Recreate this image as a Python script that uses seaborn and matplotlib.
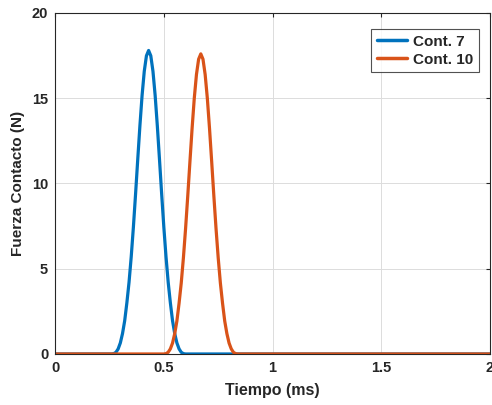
import matplotlib
matplotlib.use("Agg")
import matplotlib.pyplot as plt
import seaborn as sns
import pandas as pd

series_names = ["Cont. 7", "Cont. 10"]

time_c7 = [0.0, 0.26, 0.27, 0.28, 0.29, 0.30, 0.31, 0.32, 0.33, 0.34, 0.35, 0.36, 0.37,
           0.38, 0.39, 0.40, 0.41, 0.42, 0.43, 0.44, 0.45, 0.46, 0.47, 0.48, 0.49, 0.50,
           0.51, 0.52, 0.53, 0.54, 0.55, 0.56, 0.57, 0.58, 0.59, 0.60, 2.0]
force_c7 = [0.0, 0.0, 0.02, 0.1, 0.3, 0.65, 1.2, 1.95, 3.0, 4.21, 5.70, 7.44, 9.38,
            11.41, 13.39, 15.17, 16.58, 17.49, 17.8, 17.49, 16.58, 15.17, 13.39, 11.41, 9.38, 7.44,
            5.70, 4.21, 3.0, 1.95, 1.2, 0.65, 0.3, 0.1, 0.02, 0.0, 0.0]

time_c10 = [0.0, 0.50, 0.51, 0.52, 0.53, 0.54, 0.55, 0.56, 0.57, 0.58, 0.59, 0.60, 0.61,
            0.62, 0.63, 0.64, 0.65, 0.66, 0.67, 0.68, 0.69, 0.70, 0.71, 0.72, 0.73, 0.74,
            0.75, 0.76, 0.77, 0.78, 0.79, 0.80, 0.81, 0.82, 0.83, 0.84, 2.0]
force_c10 = [0.0, 0.0, 0.02, 0.1, 0.3, 0.64, 1.19, 1.93, 2.97, 4.16, 5.64, 7.36, 9.27,
             11.28, 13.24, 15.0, 16.39, 17.29, 17.6, 17.29, 16.39, 15.0, 13.24, 11.28, 9.27, 7.36,
             5.64, 4.16, 2.97, 1.93, 1.19, 0.64, 0.3, 0.1, 0.02, 0.0, 0.0]

x_ticks = [0, 0.5, 1, 1.5, 2]
x_tick_labels = ["0", "0.5", "1", "1.5", "2"]
y_ticks = [0, 5, 10, 15, 20]
y_tick_labels = ["0", "5", "10", "15", "20"]

df = pd.concat([
    pd.DataFrame({"t": time_c7, "F": force_c7, "s": series_names[0]}),
    pd.DataFrame({"t": time_c10, "F": force_c10, "s": series_names[1]}),
])

sns.set_style("white")
plt.rcParams["font.family"] = ["Liberation Sans", "DejaVu Sans"]
plt.rcParams["font.weight"] = "bold"

fig = plt.figure(figsize=(4.92, 4.05), dpi=100)
ax = fig.add_axes([0.112, 0.126, 0.884, 0.842])

palette = {"Cont. 7": "#0072BD", "Cont. 10": "#D95319"}
sns.lineplot(data=df, x="t", y="F", hue="s", palette=palette, linewidth=2.3,
             ax=ax, sort=False, estimator=None)

ax.set_xlim(0, 2)
ax.set_ylim(0, 20)
ax.set_xticks(x_ticks)
ax.set_xticklabels(x_tick_labels, fontsize=10.5, fontweight="bold")
ax.set_yticks(y_ticks)
ax.set_yticklabels(y_tick_labels, fontsize=10.5, fontweight="bold")
ax.grid(True, color="#dcdcdc", linewidth=0.7)
ax.set_axisbelow(True)
ax.tick_params(direction="in", length=3, color="#262626", top=True, right=True, pad=5)
for sp in ax.spines.values():
    sp.set_color("#262626")
    sp.set_linewidth(0.8)
ax.set_xlabel("Tiempo (ms)", fontsize=11.5, fontweight="bold", labelpad=6)
ax.set_ylabel("Fuerza Contacto (N)", fontsize=11, fontweight="bold", labelpad=5)

leg = ax.legend(loc="upper right", bbox_to_anchor=(0.985, 0.965), fontsize=11,
                frameon=True, fancybox=False, handlelength=2.0, handletextpad=0.4,
                borderpad=0.35, labelspacing=0.25, borderaxespad=0.3)
leg.get_frame().set_edgecolor("#262626")
leg.get_frame().set_linewidth(0.8)
for txt in leg.get_texts():
    txt.set_fontweight("bold")
for line in leg.get_lines():
    line.set_linewidth(2.5)

fig.savefig("out.png", dpi=100)
